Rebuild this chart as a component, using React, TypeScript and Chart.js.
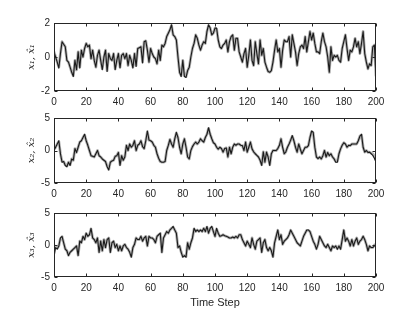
import React, { useEffect, useRef } from "react";
import { Chart, registerables } from "chart.js";

Chart.register(...registerables);

const steps: number[] = Array.from({ length: 201 }, (_, i) => i);
const xTicks = [0, 20, 40, 60, 80, 100, 120, 140, 160, 180, 200];

const x1True = [
  0.3, 0.0, -0.3, -0.65, 0.2, 0.9, 0.75, 0.6, -0.2, -0.3,
  -0.6, -0.9, -1.15, -0.2, -0.75, 0.3, -0.65, 0.4, 0.0, 0.5,
  0.8, 0.6, 0.7, -0.1, 0.4, -0.2, -0.6, 0.1, 0.4, -0.2,
  -0.75, 0.0, 0.4, -0.85, 0.2, -0.1, -0.2, 0.2, -0.75, -0.2,
  0.2, -0.65, 0.1, 0.2, -0.1, 0.2, -0.5, 0.1, -0.2, -0.65,
  0.2, -0.55, 0.5, 0.55, 0.6, -0.35, 0.9, 0.95, 0.4, -0.3,
  0.5, 0.2, 0.0, -0.1, -0.4, 0.4, -0.2, 0.7, 0.6, 0.8,
  1.2, 1.4, 1.6, 1.9, 1.3, 1.2, 1.0, 0.0, -0.9, -1.15,
  -0.2, -1.15, -1.2, -0.8, -0.6, 0.0, 0.5, 0.8, 1.3, 1.1,
  0.7, 0.4, 0.7, 0.9, 0.8, 1.5, 1.9, 1.7, 1.3, 1.4,
  1.7, 1.7, 1.0, 0.6, 0.5, 0.7, 0.8, 1.0, 0.3, 0.9,
  1.2, 1.3, 0.4, 1.1, 1.1, 0.3, 0.0, -0.3, 0.2, 0.5,
  -0.6, 0.1, 1.0, -0.2, -0.5, 0.9, 0.2, -0.4, 1.0, 0.1,
  0.5, -0.3, -0.6, -0.85, -0.9, -0.8, -0.3, 0.4, 1.0, 0.3,
  0.5, -0.6, 0.4, 1.0, 0.9, 0.9, 1.2, 0.0, 1.3, 0.8,
  0.3, -0.5, 0.2, 0.6, 0.7, 0.5, 1.2, 0.3, 0.9, 1.5,
  1.0, 1.4, 0.8, 0.3, 0.3, 0.2, 0.9, 1.4, 0.9, 0.6,
  0.0, -0.9, 0.6, -0.2, 0.1, 0.0, 0.1, -0.2, -0.3, 0.5,
  0.9, 1.3, 0.5, -0.2, 0.4, 0.3, 0.6, 1.1, 0.6, 0.9,
  0.2, 0.8, 1.5, 0.2, -0.3, -0.7, -0.4, -0.5, 0.6, 0.7,
  -1.2,
];

const x1Est = [
  0.3, 0.0, -0.3, -0.6, 0.2, 0.9, 0.75, 0.6, -0.2, -0.3,
  -0.6, -0.9, -1.1, -0.2, -0.75, 0.3, -0.6, 0.4, 0.0, 0.5,
  0.8, 0.6, 0.7, -0.1, 0.4, -0.2, -0.6, 0.1, 0.4, -0.2,
  -0.7, 0.0, 0.4, -0.8, 0.2, -0.1, -0.2, 0.2, -0.7, -0.2,
  0.2, -0.6, 0.1, 0.2, -0.1, 0.2, -0.5, 0.1, -0.2, -0.6,
  0.2, -0.5, 0.5, 0.55, 0.6, -0.3, 0.9, 0.95, 0.4, -0.3,
  0.5, 0.2, 0.0, -0.1, -0.4, 0.4, -0.2, 0.7, 0.6, 0.8,
  1.2, 1.4, 1.6, 1.85, 1.3, 1.2, 1.0, 0.0, -0.9, -1.1,
  -0.2, -1.1, -1.15, -0.8, -0.6, 0.0, 0.5, 0.8, 1.3, 1.1,
  0.7, 0.4, 0.7, 0.9, 0.8, 1.5, 1.85, 1.7, 1.3, 1.4,
  1.7, 1.65, 1.0, 0.6, 0.5, 0.7, 0.8, 1.0, 0.3, 0.9,
  1.2, 1.3, 0.4, 1.1, 1.1, 0.3, 0.0, -0.3, 0.2, 0.5,
  -0.6, 0.1, 1.0, -0.2, -0.5, 0.9, 0.2, -0.4, 1.0, 0.1,
  0.5, -0.3, -0.6, -0.85, -0.9, -0.8, -0.3, 0.4, 1.0, 0.3,
  0.5, -0.6, 0.4, 1.0, 0.9, 0.9, 1.2, 0.0, 1.3, 0.8,
  0.3, -0.5, 0.2, 0.6, 0.7, 0.5, 1.2, 0.3, 0.9, 1.5,
  1.0, 1.4, 0.8, 0.3, 0.3, 0.2, 0.9, 1.4, 0.9, 0.6,
  0.0, -0.9, 0.6, -0.2, 0.1, 0.0, 0.1, -0.2, -0.3, 0.5,
  0.9, 1.3, 0.5, -0.2, 0.4, 0.3, 0.6, 1.1, 0.6, 0.9,
  0.2, 0.8, 1.5, 0.2, -0.3, -0.7, -0.4, -0.5, 0.6, 0.7,
  -1.1,
];

const x2True = [
  0.0, 0.5, 1.0, 1.5, -0.5, -1.8, -1.7, -2.3, -2.5, -1.8,
  -2.3, -1.3, -1.5, 0.3, -0.3, 0.5, 1.3, 1.5, 2.0, 2.5,
  1.5, 0.8, 0.0, -0.8, -0.9, -1.0, -0.5, 0.0, -0.8, -1.0,
  -1.3, -1.5, -1.7, -2.5, -3.0, -1.8, -1.6, -1.5, -0.9, -0.8,
  -0.3, -2.3, -0.8, -1.5, -1.0, 0.8, 0.0, 1.0, 0.5, 0.8,
  1.5, 0.0, 0.8, 1.0, 1.5, 0.6, 0.3, 1.5, 3.0, 1.6,
  1.5, 1.3, 0.8, 0.5, -0.5, -1.2, -1.7, -1.8, -1.8, -1.7,
  0.0, 0.8, 1.7, 1.0, 0.5, 1.8, 2.8, 2.0, 0.5, -0.5,
  1.0, 1.8, 0.5, -1.0, -1.3, 0.0, 0.6, 1.0, 1.3, 1.0,
  1.3, 1.8, 1.5, 1.3, 2.0, 2.5, 3.5, 2.5, 1.8, 1.2,
  1.0, 0.5, 0.2, 0.5, 0.3, -0.25, 0.3, 0.4, -1.0, 0.5,
  -0.5, 0.5, 1.0, 0.8, 1.0, 1.0, 0.8, 0.75, 0.0, 1.3,
  -0.25, 0.5, 1.3, 0.25, -0.2, -0.5, -0.75, -1.0, -1.5, -2.3,
  -0.2, -1.8, -0.25, -1.0, -2.3, -0.5, 0.0, 0.0, 0.0, 0.3,
  0.8, 1.8, 0.5, -0.5, -0.2, 0.5, 1.0, 1.6, 2.3, 1.5,
  0.5, -0.25, 1.0, 0.2, -0.5, 0.0, 0.5, 0.5, 0.75, 2.0,
  3.0, 2.8, 0.5, -1.0, -1.25, -1.0, -1.3, -0.8, 0.0, -1.0,
  -0.3, -0.8, -0.5, -1.0, -1.3, -1.8, -1.8, -0.5, 0.25, 0.8,
  1.2, 1.0, 0.5, 0.8, 0.75, 1.0, 1.0, 1.0, 1.0, 1.5,
  2.2, 2.5, 0.5, -0.25, 0.0, -0.3, -0.25, -0.5, -0.75, -1.2,
  -1.8,
];

const x2Est = [
  0.2, 0.5, 1.0, 1.4, -0.5, -1.7, -1.7, -2.2, -2.4, -1.8,
  -2.2, -1.3, -1.5, 0.3, -0.3, 0.5, 1.3, 1.5, 2.0, 2.4,
  1.5, 0.8, 0.0, -0.8, -0.9, -1.0, -0.5, 0.0, -0.8, -1.0,
  -1.3, -1.5, -1.7, -2.4, -2.9, -1.8, -1.6, -1.5, -0.9, -0.8,
  -0.3, -2.2, -0.8, -1.5, -1.0, 0.8, 0.0, 1.0, 0.5, 0.8,
  1.5, 0.0, 0.8, 1.0, 1.5, 0.6, 0.3, 1.5, 2.9, 1.6,
  1.5, 1.3, 0.8, 0.5, -0.5, -1.2, -1.7, -1.8, -1.8, -1.7,
  0.0, 0.8, 1.7, 1.0, 0.5, 1.8, 2.7, 2.0, 0.5, -0.5,
  1.0, 1.8, 0.5, -1.0, -1.3, 0.0, 0.6, 1.0, 1.3, 1.0,
  1.3, 1.8, 1.5, 1.3, 2.0, 2.5, 3.4, 2.5, 1.8, 1.2,
  1.0, 0.5, 0.2, 0.5, 0.3, -0.25, 0.3, 0.4, -1.0, 0.5,
  -0.5, 0.5, 1.0, 0.8, 1.0, 1.0, 0.8, 0.75, 0.0, 1.3,
  -0.25, 0.5, 1.3, 0.25, -0.2, -0.5, -0.75, -1.0, -1.5, -2.2,
  -0.2, -1.8, -0.25, -1.0, -2.2, -0.5, 0.0, 0.0, 0.0, 0.3,
  0.8, 1.8, 0.5, -0.5, -0.2, 0.5, 1.0, 1.6, 2.2, 1.5,
  0.5, -0.25, 1.0, 0.2, -0.5, 0.0, 0.5, 0.5, 0.75, 2.0,
  2.9, 2.7, 0.5, -1.0, -1.25, -1.0, -1.3, -0.8, 0.0, -1.0,
  -0.3, -0.8, -0.5, -1.0, -1.3, -1.7, -1.7, -0.5, 0.25, 0.8,
  1.2, 1.0, 0.5, 0.8, 0.75, 1.0, 1.0, 1.0, 1.0, 1.5,
  2.2, 2.4, 0.5, -0.25, 0.0, -0.3, -0.25, -0.4, -0.5, -0.9,
  -1.4,
];

const x3True = [
  -1.9, -0.4, -0.65, -0.15, 1.1, 1.35, 0.35, -0.65, -0.9, -1.65,
  -1.15, -0.9, -0.65, -0.4, -0.15, -1.65, 0.6, 0.35, 1.35, 0.85,
  1.85, 1.35, 1.6, 2.6, 1.1, 0.85, 0.35, 1.1, -1.15, 0.6,
  -0.9, 0.85, -0.4, 0.85, 1.1, -1.15, 0.35, 0.6, -0.4, 0.1,
  -0.9, -0.15, -0.9, -0.15, 0.1, -0.4, -0.65, -1.15, -1.9, -0.4,
  0.1, 1.1, 0.85, 0.85, 1.35, 0.6, 1.1, 1.35, -0.15, 1.35,
  1.1, 1.1, 0.85, 0.35, 1.35, 1.6, 1.85, -1.15, 1.1, 1.6,
  2.1, 1.85, 2.35, 2.6, 2.9, 2.35, 1.85, -0.4, -0.15, -1.15,
  -1.9, -1.65, -1.9, 0.35, -0.65, 0.35, 1.1, 2.6, 2.1, 2.35,
  2.1, 2.35, 2.1, 2.6, 2.1, 2.9, 1.85, 2.6, 2.9, 2.1,
  1.35, 2.6, 1.85, 1.35, 1.45, 1.6, 1.45, 1.35, 1.25, 1.1,
  1.1, 1.25, 1.1, 1.35, 1.1, 1.6, 1.6, 0.85, 0.35, -0.15,
  0.6, 0.1, -0.4, 1.1, 0.1, -0.65, 0.6, 0.85, 1.1, -1.15,
  0.35, 0.85, -0.4, -0.9, -0.4, -0.9, -1.9, 0.35, 1.35, 2.35,
  0.85, 1.6, 0.1, 0.6, 0.85, 1.1, 1.6, 2.35, 1.85, 1.35,
  0.85, 0.35, 0.1, -0.15, 0.6, 1.35, 1.85, 2.35, 2.35, 2.1,
  1.35, 0.6, 0.1, -0.65, 0.1, 1.35, 0.85, 0.35, -0.15, -0.4,
  0.1, -0.4, -0.9, -0.15, -0.4, -0.15, -0.65, -0.15, -0.65, 0.85,
  2.35, 0.6, 1.1, 0.6, -0.15, 0.85, -0.15, 0.6, 1.1, 0.1,
  0.6, 0.85, 1.35, 0.85, 0.1, -0.9, -0.15, -0.4, -0.4, -0.15,
  0.1,
];

const x3Est = [
  -0.6, -0.2, -0.5, -0.1, 1.0, 1.3, 0.35, -0.6, -0.9, -1.6,
  -1.15, -0.9, -0.65, -0.4, -0.15, -1.6, 0.6, 0.35, 1.3, 0.85,
  1.8, 1.35, 1.6, 2.5, 1.1, 0.85, 0.35, 1.1, -1.1, 0.6,
  -0.9, 0.85, -0.4, 0.85, 1.1, -1.1, 0.35, 0.6, -0.4, 0.1,
  -0.9, -0.15, -0.9, -0.15, 0.1, -0.4, -0.65, -1.1, -1.8, -0.4,
  0.1, 1.1, 0.85, 0.85, 1.35, 0.6, 1.1, 1.35, -0.15, 1.35,
  1.1, 1.1, 0.85, 0.35, 1.35, 1.6, 1.8, -1.1, 1.1, 1.6,
  2.1, 1.85, 2.35, 2.6, 2.8, 2.35, 1.85, -0.4, -0.15, -1.1,
  -1.8, -1.65, -1.8, 0.35, -0.65, 0.35, 1.1, 2.5, 2.1, 2.35,
  2.1, 2.35, 2.1, 2.6, 2.1, 2.8, 1.85, 2.6, 2.8, 2.1,
  1.35, 2.5, 1.85, 1.35, 1.45, 1.6, 1.45, 1.35, 1.25, 1.1,
  1.1, 1.25, 1.1, 1.35, 1.1, 1.6, 1.6, 0.85, 0.35, -0.15,
  0.6, 0.1, -0.4, 1.1, 0.1, -0.65, 0.6, 0.85, 1.1, -1.1,
  0.35, 0.85, -0.4, -0.9, -0.4, -0.9, -1.8, 0.35, 1.35, 2.3,
  0.85, 1.6, 0.1, 0.6, 0.85, 1.1, 1.6, 2.3, 1.85, 1.35,
  0.85, 0.35, 0.1, -0.15, 0.6, 1.35, 1.85, 2.3, 2.3, 2.1,
  1.35, 0.6, 0.1, -0.6, 0.1, 1.35, 0.85, 0.35, -0.15, -0.4,
  0.1, -0.4, -0.9, -0.15, -0.4, -0.15, -0.6, -0.15, -0.6, 0.85,
  2.3, 0.6, 1.1, 0.6, -0.15, 0.85, -0.15, 0.6, 1.1, 0.1,
  0.6, 0.85, 1.35, 0.85, 0.1, -0.9, -0.15, -0.4, -0.4, 0.0,
  0.1,
];

const panelTitles = ["x\u2081, x\u0302\u2081", "x\u2082, x\u0302\u2082", "x\u2083, x\u0302\u2083"];
const panelRanges = [2, 5, 5];
const xTitle = "Time Step";

const AXIS = "#262626";
const FONT = "'Liberation Sans', Arial, Helvetica, sans-serif";

const boxPlugin = {
  id: "matlabBox",
  afterDatasetsDraw(chart: any) {
    const { ctx, chartArea: a, scales } = chart;
    const L = Math.round(a.left) + 0.5;
    const R = Math.round(a.right) - 0.5;
    const T = Math.round(a.top) + 0.5;
    const B = Math.round(a.bottom) - 0.5;
    ctx.save();
    ctx.strokeStyle = AXIS;
    ctx.lineWidth = 1;
    ctx.strokeRect(L, T, R - L, B - T);
    const tl = 3;
    ctx.beginPath();
    for (const t of scales.x.ticks) {
      const px = Math.round(scales.x.getPixelForValue(t.value)) + 0.5;
      ctx.moveTo(px, B);
      ctx.lineTo(px, B - tl);
      ctx.moveTo(px, T);
      ctx.lineTo(px, T + tl);
    }
    for (const t of scales.y.ticks) {
      const py = Math.round(scales.y.getPixelForValue(t.value)) + 0.5;
      ctx.moveTo(L, py);
      ctx.lineTo(L + tl, py);
      ctx.moveTo(R, py);
      ctx.lineTo(R - tl, py);
    }
    ctx.stroke();
    ctx.restore();
  },
};

type PanelSpec = {
  top: number;
  height: number;
  padTop: number;
  plotH: number;
  trueVals: number[];
  estVals: number[];
  range: number;
  yTitle: string;
  showXTitle: boolean;
};

const panels: PanelSpec[] = [
  { top: 0, height: 108, padTop: 23, plotH: 68, trueVals: x1True, estVals: x1Est, range: panelRanges[0], yTitle: panelTitles[0], showXTitle: false },
  { top: 108, height: 95, padTop: 9, plotH: 66, trueVals: x2True, estVals: x2Est, range: panelRanges[1], yTitle: panelTitles[1], showXTitle: false },
  { top: 203, height: 109, padTop: 8, plotH: 66, trueVals: x3True, estVals: x3Est, range: panelRanges[2], yTitle: panelTitles[2], showXTitle: true },
];

function Panel({ spec }: { spec: PanelSpec }) {
  const ref = useRef<HTMLCanvasElement | null>(null);
  useEffect(() => {
    if (!ref.current) return;
    const xH = spec.height - spec.padTop - spec.plotH;
    const chart = new Chart(ref.current, {
      type: "line",
      data: {
        labels: steps,
        datasets: [
          {
            data: spec.trueVals,
            borderColor: "#1a1a1a",
            borderWidth: 1.1,
            pointRadius: 0,
            tension: 0,
            borderJoinStyle: "round",
            borderCapStyle: "round",
            order: 0,
          },
          {
            data: spec.estVals,
            borderColor: "#b0b0b0",
            borderWidth: 2.8,
            pointRadius: 0,
            tension: 0,
            borderJoinStyle: "round",
            borderCapStyle: "round",
            order: 1,
          },
        ],
      },
      options: {
        responsive: false,
        animation: false,
        devicePixelRatio: 1,
        layout: { padding: { top: spec.padTop, right: 39, left: 0, bottom: 0 } },
        plugins: { legend: { display: false }, tooltip: { enabled: false } },
        scales: {
          x: {
            type: "linear",
            min: 0,
            max: 200,
            afterBuildTicks: (s: any) => {
              s.ticks = xTicks.map((v) => ({ value: v }));
            },
            afterFit: (s: any) => {
              s.height = xH;
            },
            grid: { display: false, drawTicks: false },
            border: { display: false },
            ticks: {
              autoSkip: false,
              maxRotation: 0,
              padding: 5,
              color: AXIS,
              font: { family: FONT, size: 10 },
            },
            title: {
              display: spec.showXTitle,
              text: xTitle,
              color: AXIS,
              font: { family: FONT, size: 11 },
              padding: { top: 0, bottom: 2 },
            },
          },
          y: {
            type: "linear",
            min: -spec.range,
            max: spec.range,
            afterBuildTicks: (s: any) => {
              s.ticks = [-spec.range, 0, spec.range].map((v) => ({ value: v }));
            },
            afterFit: (s: any) => {
              s.width = 54;
            },
            grid: { display: false, drawTicks: false },
            border: { display: false },
            ticks: {
              padding: 4,
              color: AXIS,
              font: { family: FONT, size: 10 },
            },
            title: {
              display: true,
              text: spec.yTitle,
              color: AXIS,
              font: { family: "'DejaVu Serif', 'Liberation Serif', serif", size: 10, style: "italic" },
              padding: { top: 25, bottom: 0 },
            },
          },
        },
      },
      plugins: [boxPlugin],
    } as any);
    return () => chart.destroy();
  }, [spec]);
  return (
    <canvas
      ref={ref}
      width={415}
      height={spec.height}
      style={{ position: "absolute", left: 0, top: spec.top, width: 415, height: spec.height }}
    />
  );
}

export default function App() {
  return (
    <div style={{ position: "fixed", left: 0, top: 0, width: 415, height: 312, background: "#ffffff" }}>
      {panels.map((p, i) => (
        <Panel key={i} spec={p} />
      ))}
    </div>
  );
}
